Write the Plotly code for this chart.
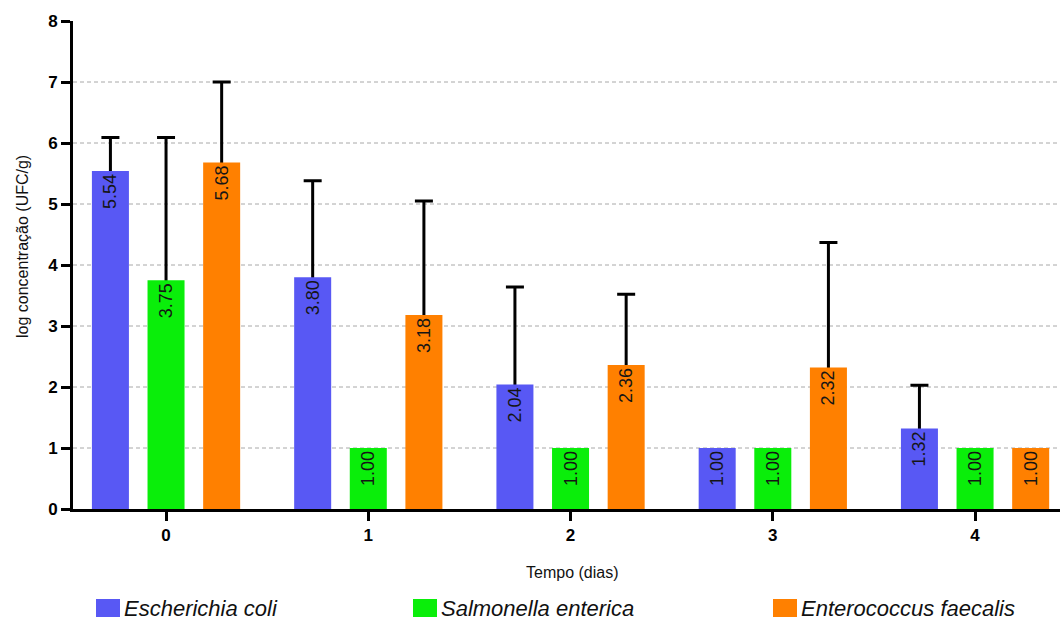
import plotly.graph_objects as go

# Sampling days and tick labels
days = [0, 1, 2, 3, 4]
day_labels = ["0", "1", "2", "3", "4"]

# Series names and mean log counts (log UFC/g)
species = ["Escherichia coli", "Salmonella enterica", "Enterococcus faecalis"]
ecoli = [5.54, 3.80, 2.04, 1.00, 1.32]
salmonella = [3.75, 1.00, 1.00, 1.00, 1.00]
enterococcus = [5.68, 3.18, 2.36, 2.32, 1.00]

# Standard deviations (None where no whisker is shown)
ecoli_sd = [0.55, 1.58, 1.60, None, 0.71]
salmonella_sd = [2.34, None, None, None, None]
enterococcus_sd = [1.32, 1.87, 1.16, 2.05, None]

y_ticks = [0, 1, 2, 3, 4, 5, 6, 7, 8]
grid_levels = [1, 2, 3, 4, 5, 6, 7]

colors = ["#5858F4", "#0AEE0A", "#FF8000"]
means = [ecoli, salmonella, enterococcus]
sds = [ecoli_sd, salmonella_sd, enterococcus_sd]

W, H = 1060, 622
M_L, M_R, M_T, M_B = 73, 0, 21, 113
PW = W - M_L - M_R
PH = H - M_T - M_B


def px_x(px):
    return (px - M_L) / PW


def px_y(py):
    return (H - M_B - py) / PH


FONT = "Liberation Sans, Arial, sans-serif"
bar_w = 0.183
slot = 0.275

fig = go.Figure()

# Whisker carriers: transparent bars holding symmetric error bars; the
# coloured bars drawn afterwards hide the lower half of each whisker.
for i, (vals, sd) in enumerate(zip(means, sds)):
    centre = (i - 1) * slot
    carrier_y = [v if s is not None else None for v, s in zip(vals, sd)]
    carrier_sd = [s if s is not None else 0 for s in sd]
    fig.add_trace(go.Bar(
        x=days, y=carrier_y,
        width=bar_w, offset=centre - bar_w / 2,
        marker=dict(color="rgba(0,0,0,0)", line=dict(width=0)),
        error_y=dict(type="data", array=carrier_sd, symmetric=True,
                     color="black", thickness=3, width=9),
        showlegend=False, hoverinfo="skip",
    ))

for i, (vals, name) in enumerate(zip(means, species)):
    centre = (i - 1) * slot
    fig.add_trace(go.Bar(
        x=days, y=vals, name=name,
        width=bar_w, offset=centre - bar_w / 2,
        marker=dict(color=colors[i], line=dict(width=0)),
        texttemplate="%{y:.2f}",
        textposition="inside",
        insidetextanchor="end",
        textangle=-90,
        textfont=dict(family=FONT, size=18, color="#151515"),
        constraintext="none",
        showlegend=False,
    ))

# Dashed horizontal guide lines
shapes = []
for g in grid_levels:
    shapes.append(dict(type="line", xref="paper", yref="y",
                       x0=0, x1=1, y0=g, y1=g, layer="below",
                       line=dict(color="#A8A8A8", width=1, dash="4px,3px")))

# Legend keys
legend_px = [96, 413, 773]
annotations = []
for i, name in enumerate(species):
    x0 = legend_px[i]
    shapes.append(dict(type="rect", xref="paper", yref="paper",
                       x0=px_x(x0), x1=px_x(x0 + 24),
                       y0=px_y(617), y1=px_y(599),
                       fillcolor=colors[i], line=dict(width=0)))
    annotations.append(dict(text=name, xref="paper", yref="paper",
                            x=px_x(x0 + 26), y=px_y(608),
                            xanchor="left", yanchor="middle", showarrow=False,
                            font=dict(family=FONT, size=22, style="italic",
                                      color="#111111")))

annotations.append(dict(text="log concentração (UFC/g)", xref="paper", yref="paper",
                        x=px_x(22), y=px_y(247), textangle=-90,
                        xanchor="center", yanchor="middle", showarrow=False,
                        font=dict(family=FONT, size=16, color="#111111")))
annotations.append(dict(text="Tempo (dias)", xref="paper", yref="paper",
                        x=px_x(572), y=px_y(572),
                        xanchor="center", yanchor="middle", showarrow=False,
                        font=dict(family=FONT, size=16, color="#111111")))

fig.update_layout(
    width=W, height=H,
    margin=dict(l=M_L, r=M_R, t=M_T, b=M_B, pad=0),
    barmode="overlay",
    plot_bgcolor="white", paper_bgcolor="white",
    shapes=shapes, annotations=annotations,
    showlegend=False,
    xaxis=dict(range=[-0.46, 4.42], tickvals=days, ticktext=day_labels,
               showline=True, linecolor="black", linewidth=3,
               ticks="outside", ticklen=9, tickwidth=3, tickcolor="black",
               showgrid=False, zeroline=False, fixedrange=True,
               tickfont=dict(family=FONT, size=17, color="black", weight="bold")),
    yaxis=dict(range=[0, 8], tickvals=y_ticks,
               showline=True, linecolor="black", linewidth=3,
               ticks="outside", ticklen=9, tickwidth=3, tickcolor="black",
               showgrid=False, zeroline=False, fixedrange=True,
               tickfont=dict(family=FONT, size=17, color="black", weight="bold")),
)

fig.write_html("out.html")
